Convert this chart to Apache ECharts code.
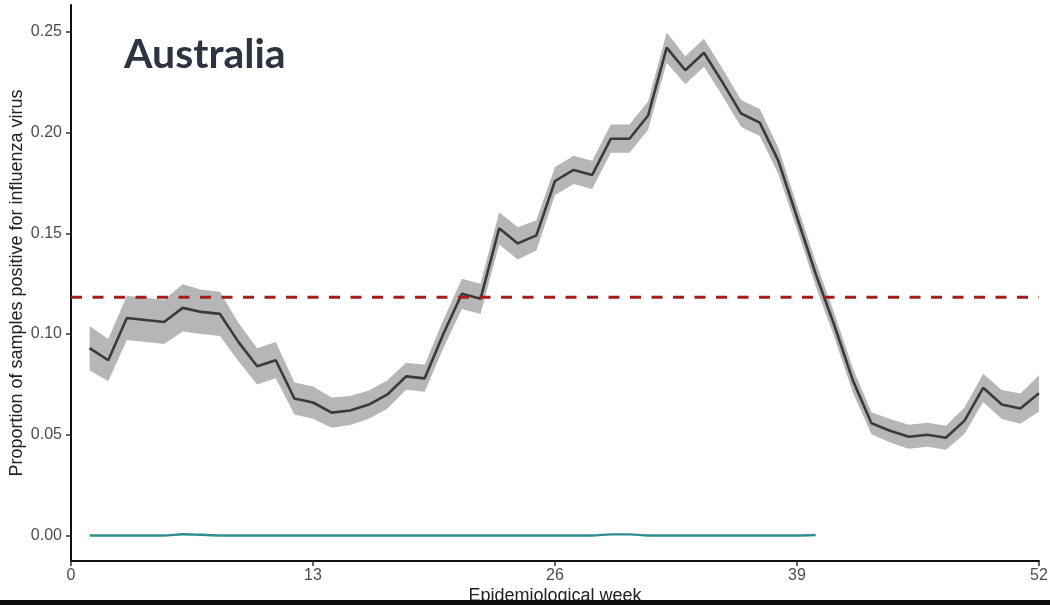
<!DOCTYPE html>
<html>
<head>
<meta charset="utf-8">
<script src="https://cdn.jsdelivr.net/npm/echarts@6/dist/echarts.min.js"></script>
<style>
  html, body { margin: 0; padding: 0; background: #ffffff; }
  #chart { width: 1050px; height: 605px; }
</style>
</head>
<body>
<div id="chart"></div>
<script>
// Epidemiological weeks of the historical season
const weeks = [1, 2, 3, 4, 5, 6, 7, 8, 9, 10, 11, 12, 13, 14, 15, 16, 17, 18, 19, 20,
  21, 22, 23, 24, 25, 26, 27, 28, 29, 30, 31, 32, 33, 34, 35, 36, 37, 38, 39, 40,
  41, 42, 43, 44, 45, 46, 47, 48, 49, 50, 51, 52];

// Mean proportion of samples positive for influenza, by week
const positivity = [0.093, 0.087, 0.108, 0.107, 0.106, 0.113, 0.111, 0.110, 0.096, 0.084,
  0.087, 0.068, 0.066, 0.061, 0.062, 0.065, 0.070, 0.079, 0.078, 0.100,
  0.120, 0.1175, 0.1525, 0.145, 0.149, 0.176, 0.1815, 0.179, 0.197, 0.197,
  0.2085, 0.2422, 0.231, 0.2397, 0.225, 0.2095, 0.205, 0.186, 0.158, 0.130,
  0.1045, 0.077, 0.0557, 0.052, 0.049, 0.050, 0.0485, 0.057, 0.0733, 0.065,
  0.063, 0.0706];

// Confidence interval bounds
const ciLower = [0.082, 0.0765, 0.097, 0.096, 0.095, 0.1013, 0.100, 0.099, 0.0865, 0.075,
  0.078, 0.060, 0.058, 0.0535, 0.0548, 0.058, 0.063, 0.0723, 0.0713, 0.093,
  0.1125, 0.110, 0.1445, 0.137, 0.1415, 0.169, 0.1745, 0.172, 0.190, 0.190,
  0.2015, 0.2347, 0.224, 0.2327, 0.2182, 0.2028, 0.1983, 0.1795, 0.152, 0.124,
  0.0985, 0.071, 0.0502, 0.0462, 0.043, 0.044, 0.0425, 0.0505, 0.0663, 0.0578,
  0.0555, 0.0616];
const ciUpper = [0.104, 0.0975, 0.119, 0.118, 0.117, 0.1247, 0.122, 0.121, 0.1055, 0.093,
  0.096, 0.076, 0.074, 0.0685, 0.0692, 0.072, 0.077, 0.0857, 0.0847, 0.107,
  0.1275, 0.125, 0.1605, 0.153, 0.1565, 0.183, 0.1885, 0.186, 0.204, 0.204,
  0.2155, 0.2497, 0.238, 0.2467, 0.2318, 0.2162, 0.2117, 0.1925, 0.164, 0.136,
  0.1105, 0.083, 0.0612, 0.0578, 0.055, 0.056, 0.0545, 0.0635, 0.0803, 0.0722,
  0.0705, 0.0796];

// Current season, reported up to week 40
const currentWeeks = [1, 2, 3, 4, 5, 6, 7, 8, 9, 10, 11, 12, 13, 14, 15, 16, 17, 18, 19, 20,
  21, 22, 23, 24, 25, 26, 27, 28, 29, 30, 31, 32, 33, 34, 35, 36, 37, 38, 39, 40];
const currentSeason = [0, 0, 0, 0, 0, 0.0006, 0.0003, 0, 0, 0,
  0, 0, 0, 0, 0, 0, 0, 0, 0, 0,
  0, 0, 0, 0, 0, 0, 0, 0, 0.0005, 0.0005,
  0, 0, 0, 0, 0, 0, 0, 0, 0, 0.0002];

// Seasonal threshold
const threshold = 0.1183;
const thresholdWeeks = [0, 52];

// Axis ticks
const yTicks = [0, 0.05, 0.10, 0.15, 0.20, 0.25];
const xTicks = [0, 13, 26, 39, 52];

const pairs = (xs, ys) => xs.map((x, i) => [x, ys[i]]);

const chart = echarts.init(document.getElementById('chart'), null, { renderer: 'canvas' });

const axisText = { color: '#4d4d4d', fontSize: 16, fontFamily: 'Liberation Sans, Arial, sans-serif' };

// Ribbon between the lower and upper interval bounds, one polygon
function renderRibbon(params, api) {
  const top = weeks.map((w, i) => api.coord([w, ciUpper[i]]));
  const bottom = weeks.map((w, i) => api.coord([w, ciLower[i]])).reverse();
  return {
    type: 'polygon',
    shape: { points: top.concat(bottom) },
    style: { fill: '#b6b6b6' },
    silent: true
  };
}

chart.setOption({
  animation: false,
  backgroundColor: '#ffffff',
  grid: { left: 71, right: 11, top: 5, bottom: 44, containLabel: false, outerBoundsMode: 'none' },
  xAxis: {
    type: 'value',
    min: xTicks[0],
    max: xTicks[xTicks.length - 1],
    interval: 13,
    name: 'Epidemiological week',
    nameLocation: 'middle',
    nameGap: 26,
    nameMoveOverlap: false,
    nameTextStyle: { color: '#222', fontSize: 18, fontFamily: 'Liberation Sans, Arial, sans-serif' },
    axisLine: { onZero: false, lineStyle: { color: '#111', width: 2 } },
    axisTick: { show: true, length: 5, lineStyle: { color: '#333', width: 1.5 } },
    axisLabel: Object.assign({ margin: 7 }, axisText),
    splitLine: { show: false }
  },
  yAxis: {
    type: 'value',
    min: -0.0127,
    max: 0.2634,
    name: 'Proportion of samples positive for influenza virus',
    nameLocation: 'middle',
    nameGap: 45,
    nameMoveOverlap: false,
    nameTextStyle: { color: '#222', fontSize: 18, fontFamily: 'Liberation Sans, Arial, sans-serif' },
    axisLine: { show: true, onZero: false, lineStyle: { color: '#111', width: 2 } },
    axisTick: { show: true, length: 5, customValues: yTicks, lineStyle: { color: '#333', width: 1.5 } },
    axisLabel: Object.assign({ margin: 9, customValues: yTicks, formatter: v => v.toFixed(2) }, axisText),
    splitLine: { show: false }
  },
  series: [
    {
      name: 'ci-band',
      type: 'custom',
      data: [[weeks[0], ciLower[0]]],
      renderItem: renderRibbon,
      silent: true,
      z: 1
    },
    {
      name: 'mean',
      type: 'line',
      data: pairs(weeks, positivity),
      symbol: 'none',
      lineStyle: { color: '#3a3a3a', width: 2.6 },
      z: 3
    },
    {
      name: 'current',
      type: 'line',
      data: pairs(currentWeeks, currentSeason),
      symbol: 'none',
      smooth: 0.3,
      lineStyle: { color: '#2f8d8f', width: 2.4 },
      z: 4
    },
    {
      name: 'threshold',
      type: 'line',
      data: thresholdWeeks.map(w => [w, threshold]),
      symbol: 'none',
      lineStyle: { color: '#a51d1d', width: 3, type: [11, 10.5] },
      z: 5
    }
  ],
  graphic: [
    {
      type: 'text',
      left: 124,
      top: 34,
      style: {
        text: 'Australia',
        fill: '#2b3440',
        font: 'bold 41px Lato, "Open Sans", sans-serif'
      },
      z: 10
    },
    {
      type: 'rect',
      left: 0,
      top: 600,
      shape: { width: 1050, height: 5 },
      style: { fill: '#0e0e0e' },
      z: 20
    }
  ]
});
</script>
</body>
</html>
